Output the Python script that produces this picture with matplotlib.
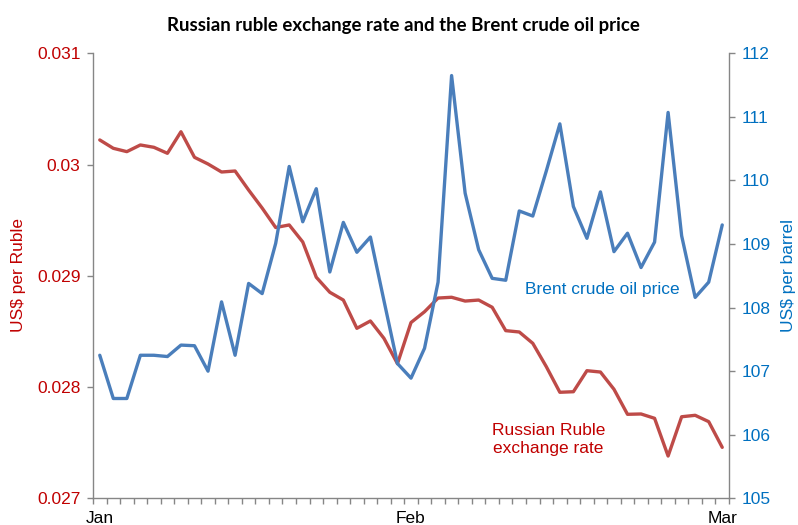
import matplotlib
matplotlib.use("Agg")
import matplotlib.pyplot as plt
import numpy as np

# ---- data ----
month_labels = ["Jan", "Feb", "Mar"]
month_label_index = [0, 23, 46]

ruble_usd = [
    0.030221, 0.030146, 0.030116, 0.030176, 0.030155, 0.030101, 0.030295, 0.030065,
    0.030005, 0.029933, 0.029942, 0.029771, 0.029609, 0.029434, 0.029457, 0.029304,
    0.028987, 0.028852, 0.028782, 0.028528, 0.028594, 0.028438, 0.028210, 0.028580,
    0.028677, 0.028800, 0.028807, 0.028773, 0.028782, 0.028717, 0.028507, 0.028495,
    0.028393, 0.028183, 0.027953, 0.027958, 0.028147, 0.028135, 0.027980, 0.027755,
    0.027758, 0.027719, 0.027380, 0.027733, 0.027746, 0.027689, 0.027458,
]

brent_usd = [
    107.25, 106.57, 106.57, 107.25, 107.25, 107.23, 107.41, 107.40,
    107.00, 108.09, 107.25, 108.38, 108.22, 109.01, 110.22, 109.35,
    109.87, 108.56, 109.34, 108.87, 109.11, 108.11, 107.12, 106.89,
    107.36, 108.40, 111.65, 109.80, 108.91, 108.46, 108.43, 109.52,
    109.44, 110.15, 110.89, 109.59, 109.09, 109.82, 108.88, 109.17,
    108.63, 109.03, 111.07, 109.13, 108.16, 108.40, 109.30,
]

left_ticks = [0.027, 0.028, 0.029, 0.030, 0.031]
left_tick_labels = ["0.027", "0.028", "0.029", "0.03", "0.031"]
right_ticks = [105, 106, 107, 108, 109, 110, 111, 112]

# ---- style ----
RED_LINE = "#BE4B48"
BLUE_LINE = "#4A7EBB"
RED_TEXT = "#C00000"
BLUE_TEXT = "#0070C0"
GREY = "#868686"
FS = 12.5
plt.rcParams["font.family"] = ["Liberation Sans", "DejaVu Sans"]

fig = plt.figure(figsize=(7.98, 5.25), dpi=100)
W, H = 798, 525
x0, x1, ytop, ybot = 93, 729, 53.3, 498.3
ax = fig.add_axes([x0 / W, (H - ybot) / H, (x1 - x0) / W, (ybot - ytop) / H])
ax2 = ax.twinx()

n = len(ruble_usd)
x = np.arange(n) + 0.5
ax.plot(x, ruble_usd, color=RED_LINE, lw=2.4, solid_joinstyle="round", solid_capstyle="round")
ax2.plot(x, brent_usd, color=BLUE_LINE, lw=2.4, solid_joinstyle="round", solid_capstyle="round")

ax.set_xlim(0, n)
ax.set_ylim(0.027, 0.031)
ax2.set_ylim(105, 112)

for a in (ax, ax2):
    a.spines["top"].set_visible(False)
    for s in ("left", "right", "bottom"):
        a.spines[s].set_color(GREY)
        a.spines[s].set_linewidth(1.0)

ax.spines["right"].set_visible(False)
ax2.spines["left"].set_visible(False)
ax2.spines["bottom"].set_visible(False)

# x ticks: boundaries as tick marks, labels at category centers
ax.set_xticks(np.arange(n + 1))
ax.set_xticklabels([])
ax.tick_params(axis="x", which="major", length=4, color=GREY, width=1.0)
ax.set_xticks([i + 0.5 for i in month_label_index], minor=True)
ax.set_xticklabels(month_labels, minor=True)
ax.tick_params(axis="x", which="minor", length=0, pad=9.5, labelsize=FS, labelcolor="black")

ax.set_yticks(left_ticks)
ax.set_yticklabels(left_tick_labels)
ax.tick_params(axis="y", length=4, color=GREY, width=1.0, labelsize=FS, labelcolor=RED_TEXT, pad=5)
ax2.set_yticks(right_ticks)
ax2.tick_params(axis="y", length=4, color=GREY, width=1.0, labelsize=FS, labelcolor=BLUE_TEXT, pad=5)

fig.text(18.5 / W, 1 - 275 / H, "US$ per Ruble", rotation=90, color=RED_TEXT,
         fontsize=FS, ha="center", va="center")
fig.text(789 / W, 1 - 275 / H, "US$ per barrel", rotation=90, color=BLUE_TEXT,
         fontsize=FS, ha="center", va="center")

fig.text(602 / W, 1 - 289.5 / H, "Brent crude oil price", color=BLUE_TEXT,
         fontsize=FS, ha="center", va="center")
fig.text(548.5 / W, 1 - 439.5 / H, "Russian Ruble\nexchange rate", color=RED_TEXT,
         fontsize=FS, ha="center", va="center", multialignment="center", linespacing=1.22)

t = fig.text(403 / W, 1 - 25.5 / H, "Russian ruble exchange rate and the Brent crude oil price",
             fontsize=13, fontweight="bold", family=["Lato", "DejaVu Sans"],
             ha="center", va="center")
fig.canvas.draw()
wpx = t.get_window_extent().width
t.set_fontsize(13 * 473 / wpx)

fig.savefig("out.png", dpi=100)
